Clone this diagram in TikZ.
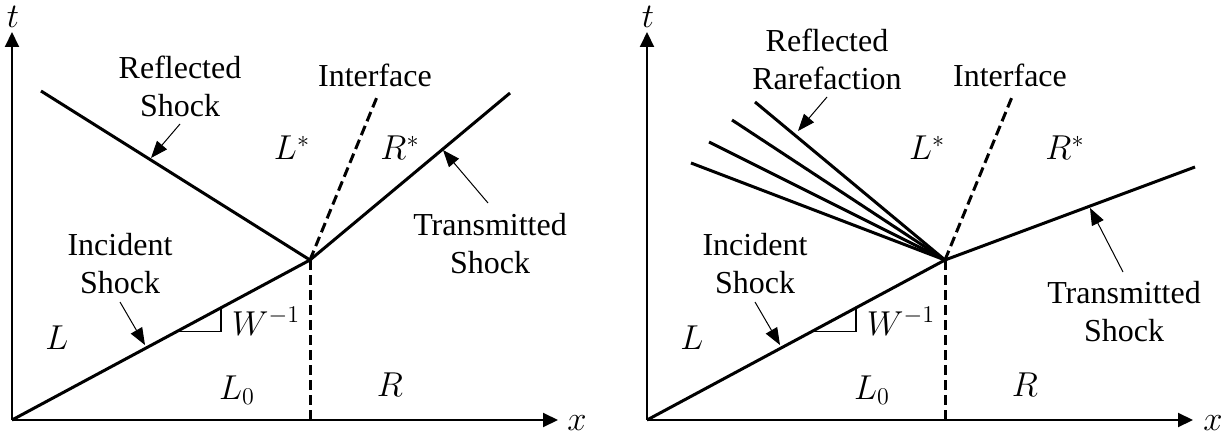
\documentclass[tikz,border=0pt]{standalone}
\usepackage{fontspec}
\setmainfont{Liberation Serif}
\usetikzlibrary{arrows.meta}
\begin{document}
\begin{tikzpicture}[x=0.5pt,y=-0.5pt,
  axis/.style={line width=1pt,-{Triangle[length=7.5pt,width=7pt]}},
  shock/.style={line width=1.5pt},
  dashline/.style={line width=1.5pt,dash pattern=on 5pt off 2.5pt},
  pointer/.style={line width=0.5pt,-{Triangle[length=8.5pt,width=6.5pt]}},
  thin/.style={line width=0.6pt},
  lbl/.style={font=\fontsize{16}{19}\selectfont,align=center,inner sep=0pt},
  mlbl/.style={font=\fontsize{17}{19}\selectfont,inner sep=0pt}]
\useasboundingbox (0,0) rectangle (1225,444);
% ---------------- left panel ----------------
\coordinate (O1) at (12,420);
\coordinate (T1) at (12,32);
\coordinate (X1) at (558,420);
\coordinate (K1) at (310,260);
\coordinate (B1) at (310,420);
\coordinate (RS1) at (41,91);
\coordinate (IF1) at (377,97);
\coordinate (TS1) at (510,93);
\draw[axis] (O1) -- (T1);
\draw[axis] (O1) -- (X1);
\node[mlbl] (t1) at (13,17) {$t$};
\node[mlbl] (x1) at (577,423) {$x$};
\draw[shock] (O1) -- (K1);
\draw[shock] (K1) -- (RS1);
\draw[shock] (K1) -- (TS1);
\draw[dashline] (K1) -- (B1);
\draw[dashline] (K1) -- (IF1);
% slope triangle
\coordinate (s1a) at (177,331.5);
\coordinate (s1b) at (221,331.5);
\coordinate (s1c) at (221,307.8);
\draw[thin] (s1a) -- (s1b) -- (s1c);
\node[mlbl] (w1) at (266,321) {$W^{-1}$};
% labels
\node[lbl] (rs1) at (180,86) {Reflected\\Shock};
\coordinate (rs1a) at (180,124);
\coordinate (rs1b) at (151,158);
\draw[pointer] (rs1a) -- (rs1b);
\node[lbl] (if1) at (375,75) {Interface};
\node[lbl] (ts1) at (490,244) {Transmitted\\Shock};
\coordinate (ts1a) at (488,203);
\coordinate (ts1b) at (443,150);
\draw[pointer] (ts1a) -- (ts1b);
\node[lbl] (is1) at (120,264) {Incident\\Shock};
\coordinate (is1a) at (120,302);
\coordinate (is1b) at (145,345);
\draw[pointer] (is1a) -- (is1b);
\node[mlbl] (Ls1) at (292,148) {$L^{*}$};
\node[mlbl] (Rs1) at (400,148) {$R^{*}$};
\node[mlbl] (L1) at (57,338) {$L$};
\node[mlbl] (L01) at (237,390) {$L_0$};
\node[mlbl] (R1) at (390,385) {$R$};
% ---------------- right panel ----------------
\coordinate (O2) at (647,420);
\coordinate (T2) at (647,32);
\coordinate (X2) at (1193,420);
\coordinate (K2) at (945,260);
\coordinate (B2) at (945,420);
\coordinate (F1) at (755,102);
\coordinate (F2) at (732,120);
\coordinate (F3) at (709,142);
\coordinate (F4) at (691,163);
\coordinate (IF2) at (1012,97);
\coordinate (TS2) at (1195,167);
\draw[axis] (O2) -- (T2);
\draw[axis] (O2) -- (X2);
\node[mlbl] (t2) at (648,17) {$t$};
\node[mlbl] (x2) at (1213,423) {$x$};
\draw[shock] (O2) -- (K2);
\draw[shock] (K2) -- (F1);
\draw[shock] (K2) -- (F2);
\draw[shock] (K2) -- (F3);
\draw[shock] (K2) -- (F4);
\draw[shock] (K2) -- (TS2);
\draw[dashline] (K2) -- (B2);
\draw[dashline] (K2) -- (IF2);
\coordinate (s2a) at (812,331.5);
\coordinate (s2b) at (856,331.5);
\coordinate (s2c) at (856,307.8);
\draw[thin] (s2a) -- (s2b) -- (s2c);
\node[mlbl] (w2) at (901,321) {$W^{-1}$};
\node[lbl] (rr2) at (827,59) {Reflected\\Rarefaction};
\coordinate (rr2a) at (827,97);
\coordinate (rr2b) at (798,131);
\draw[pointer] (rr2a) -- (rr2b);
\node[lbl] (if2) at (1010,75) {Interface};
\node[lbl] (ts2) at (1124,312) {Transmitted\\Shock};
\coordinate (ts2a) at (1123,272);
\coordinate (ts2b) at (1090,208);
\draw[pointer] (ts2a) -- (ts2b);
\node[lbl] (is2) at (755,264) {Incident\\Shock};
\coordinate (is2a) at (755,302);
\coordinate (is2b) at (780,345);
\draw[pointer] (is2a) -- (is2b);
\node[mlbl] (Ls2) at (927,148) {$L^{*}$};
\node[mlbl] (Rs2) at (1065,148) {$R^{*}$};
\node[mlbl] (L2) at (692,338) {$L$};
\node[mlbl] (L02) at (872,390) {$L_0$};
\node[mlbl] (R2) at (1025,385) {$R$};
\end{tikzpicture}
\end{document}
